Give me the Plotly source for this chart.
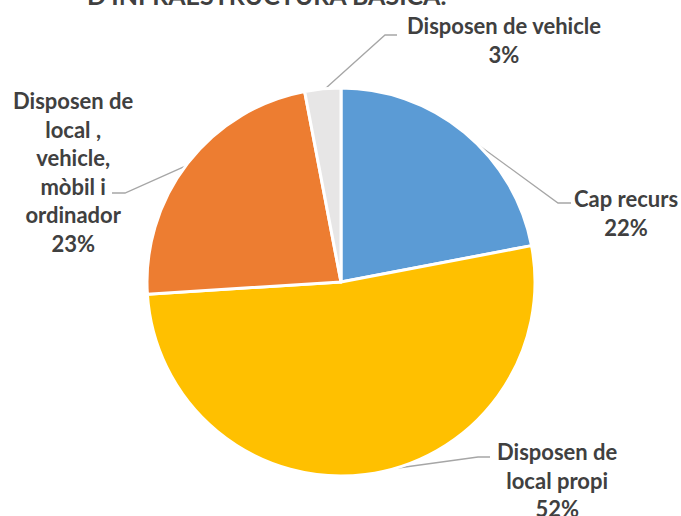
import math
import plotly.graph_objects as go

# Data
labels = ["Cap recurs", "Disposen de local propi",
          "Disposen de local , vehicle, mòbil i ordinador", "Disposen de vehicle"]
values = [22, 52, 23, 3]
label_text = ["Cap recurs<br>22%", "Disposen de<br>local propi<br>52%",
              "Disposen de<br>local ,<br>vehicle,<br>mòbil i<br>ordinador<br>23%",
              "Disposen de vehicle<br>3%"]
colors = ["#5B9BD5", "#FFC000", "#ED7D31", "#E7E6E6"]
title_text = "D'INFRAESTRUCTURA BÀSICA."

W, H = 681, 516
cx, cy, R = 341, 282, 192

# label centres and the bend of each leader line (pixels)
label_pos = [(626, 213), (557, 480), (73, 172), (504, 40)]
bend_pos = [(558, 203, 571), (478, 457, 490), (125, 193, 112), (385, 35, 397)]

fig = go.Figure()

# plotly trims the radius a little for the slice border, so pad the domain
Rd = R + 2
fig.add_trace(go.Pie(
    labels=labels,
    values=values,
    sort=False,
    direction="clockwise",
    rotation=0,
    marker=dict(colors=colors, line=dict(color="white", width=3)),
    textinfo="none",
    hoverinfo="label+percent",
    showlegend=False,
    domain=dict(x=[(cx - Rd) / W, (cx + Rd) / W],
                y=[1 - (cy + Rd) / H, 1 - (cy - Rd) / H]),
))

# leader lines from mid-angle of each slice
total = sum(values)
start = 0.0
for i, v in enumerate(values):
    mid = start + v / total * 360 / 2
    start += v / total * 360
    a = math.radians(mid)
    x0 = cx + R * math.sin(a)
    y0 = cy - R * math.cos(a)
    bx, by, ex = bend_pos[i]
    fig.add_trace(go.Scatter(
        x=[x0, bx, ex], y=[y0, by, by], mode="lines",
        line=dict(color="#A6A6A6", width=1.3),
        hoverinfo="skip", showlegend=False,
    ))
    lx, ly = label_pos[i]
    fig.add_annotation(
        x=lx, y=ly, xref="x", yref="y", text=label_text[i], showarrow=False,
        font=dict(family="Lato", size=22, color="#404040", weight="bold"),
        align="center", xanchor="center", yanchor="middle",
    )

# title, only its lower edge shows at the top of the picture
fig.add_annotation(
    x=266 / W, y=1 - 12 / H, xref="paper", yref="paper", text=title_text,
    showarrow=False, xanchor="center", yanchor="bottom",
    font=dict(family="Lato", size=25, color="#404040", weight="bold"),
)

fig.update_layout(
    width=W, height=H,
    margin=dict(l=0, r=0, t=0, b=0),
    paper_bgcolor="white", plot_bgcolor="rgba(0,0,0,0)",
    xaxis=dict(range=[0, W], visible=False, fixedrange=True),
    yaxis=dict(range=[H, 0], visible=False, fixedrange=True),
)

fig.write_html("out.html", config={"displayModeBar": False},
               post_script="document.body.style.margin='0';")
